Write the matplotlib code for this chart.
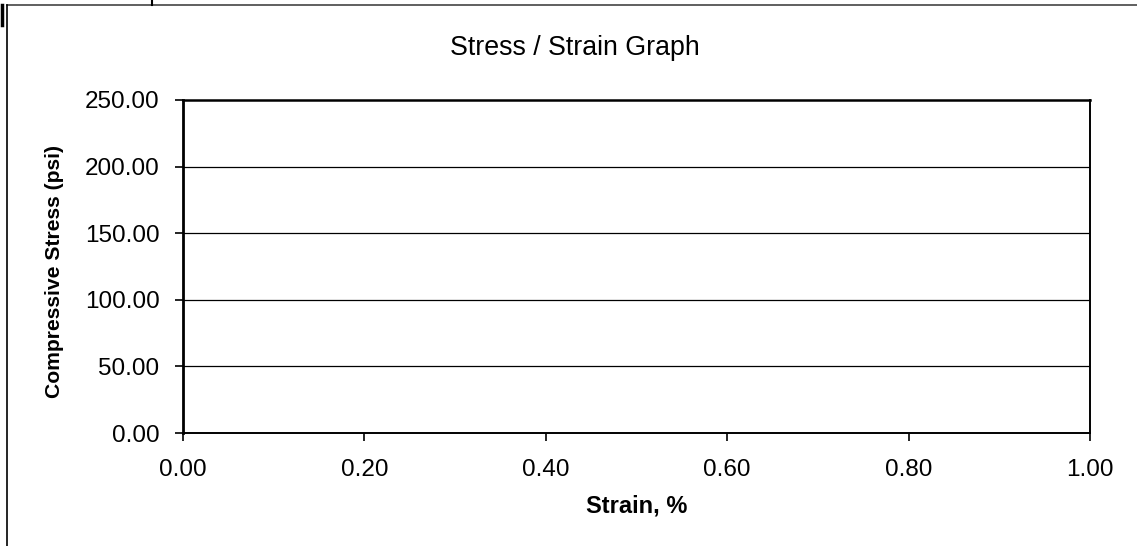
import matplotlib
matplotlib.use("Agg")
import matplotlib.pyplot as plt
from matplotlib.lines import Line2D

title = "Stress / Strain Graph"
xlabel = "Strain, %"
ylabel = "Compressive Stress (psi)"
x_ticks = [0.0, 0.2, 0.4, 0.6, 0.8, 1.0]
y_ticks = [0, 50, 100, 150, 200, 250]
x_range = [0.0, 1.0]
y_range = [0, 250]

plt.rcParams['font.family'] = ['Liberation Sans', 'DejaVu Sans']

W, H = 1137, 546
fig = plt.figure(figsize=(W / 100, H / 100), dpi=100)
ax = fig.add_axes([183 / W, 1 - 433 / H, (1090 - 183) / W, (433 - 100) / H])

ax.set_xlim(*x_range)
ax.set_ylim(*y_range)
ax.set_xticks(x_ticks)
ax.set_yticks(y_ticks)
ax.set_xticklabels([f"{v:.2f}" for v in x_ticks])
ax.set_yticklabels([f"{v:.2f}" for v in y_ticks])
ax.tick_params(axis='both', direction='out', length=6, width=1.2, colors='black',
               labelsize=17.5)
ax.tick_params(axis='y', pad=11)
ax.tick_params(axis='x', pad=13)

for v in y_ticks[1:-1]:
    ax.axhline(v, color='black', linewidth=0.9, zorder=1)

ax.spines['left'].set_linewidth(2.0)
ax.spines['top'].set_linewidth(1.8)
ax.spines['right'].set_linewidth(1.4)
ax.spines['bottom'].set_linewidth(1.4)

fig.text(575 / W, 1 - 55 / H, title, ha='center', va='baseline', fontsize=19.3)
fig.text(637 / W, 1 - 513 / H, xlabel, ha='center', va='baseline',
         fontsize=17, fontweight='bold')
fig.text(55 / W, 1 - 272 / H, ylabel, ha='center', va='center', rotation=90,
         fontsize=15.2, fontweight='bold')

# outer frame of the scanned page
fig.add_artist(Line2D([7 / W, 1], [1 - 5 / H, 1 - 5 / H], color='#444444', linewidth=1.2,
                      transform=fig.transFigure))
fig.add_artist(Line2D([7 / W, 7 / W], [0, 1 - 5 / H], color='black', linewidth=1.2,
                      transform=fig.transFigure))
fig.add_artist(Line2D([152 / W, 152 / W], [1 - 5 / H, 1], color='black', linewidth=1.5,
                      transform=fig.transFigure))
fig.add_artist(Line2D([2 / W, 2 / W], [1 - 25 / H, 1 - 5 / H], color='black', linewidth=2.5,
                      transform=fig.transFigure))

fig.savefig("out.png", dpi=100, facecolor='white')
